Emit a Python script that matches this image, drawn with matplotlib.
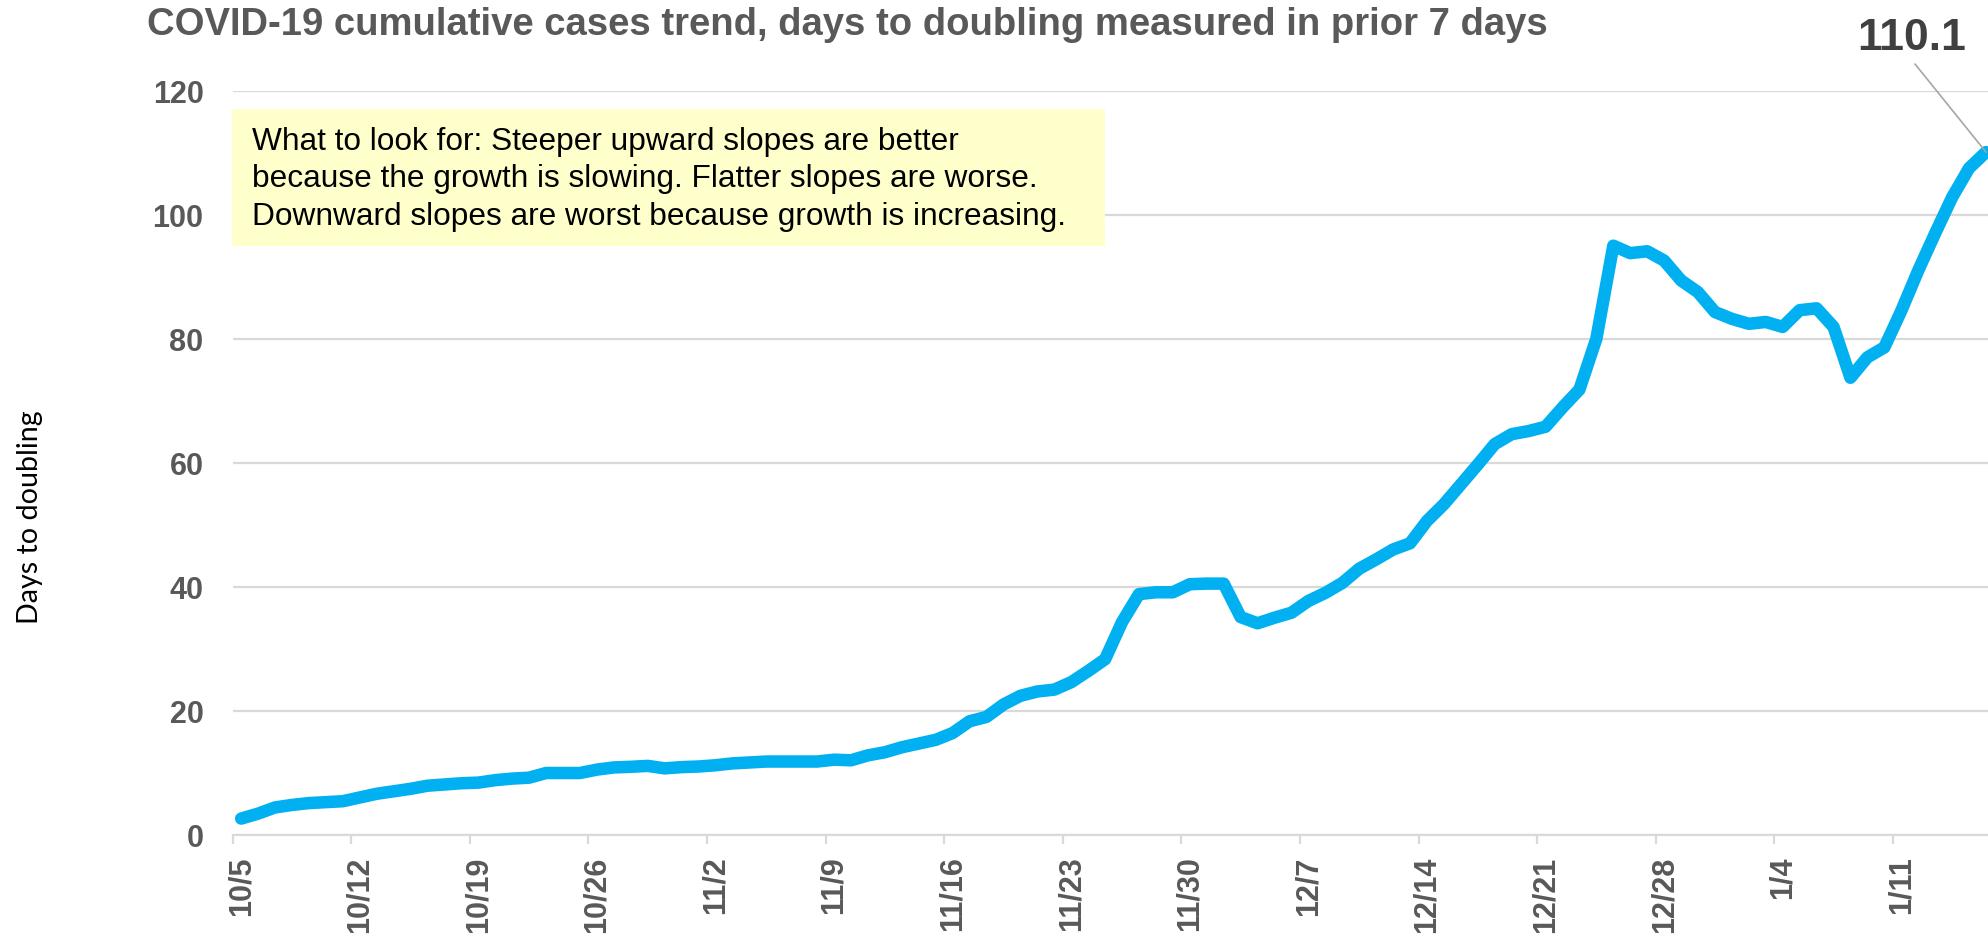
import numpy as np
import matplotlib
matplotlib.use("Agg")
import matplotlib.pyplot as plt
from matplotlib.patches import Rectangle

# ---------------- data ----------------
days_to_doubling = [
    2.6, 3.4, 4.4, 4.8, 5.1, 5.25, 5.4, 6.0, 6.6, 7.0,
    7.4, 7.9, 8.1, 8.3, 8.4, 8.8, 9.05, 9.2, 9.95, 9.95,
    9.95, 10.5, 10.85, 10.95, 11.1, 10.7, 10.9, 11.0, 11.2, 11.5,
    11.65, 11.8, 11.8, 11.8, 11.8, 12.1, 12.0, 12.8, 13.3, 14.1,
    14.7, 15.3, 16.4, 18.3, 19.0, 21.0, 22.4, 23.1, 23.4, 24.6,
    26.4, 28.3, 34.3, 38.8, 39.1, 39.1, 40.4, 40.5, 40.5, 35.1,
    34.1, 35.0, 35.8, 37.7, 39.0, 40.6, 42.9, 44.4, 46.0, 47.0,
    50.6, 53.3, 56.5, 59.7, 63.0, 64.6, 65.1, 65.8, 68.9, 71.8,
    80.0, 95.0, 93.8, 94.1, 92.6, 89.4, 87.5, 84.3, 83.2, 82.4,
    82.7, 81.9, 84.6, 84.9, 81.9, 73.7, 77.0, 78.6, 84.5, 91.0,
    97.0, 102.8, 107.5, 110.1,
]
tick_labels = ["10/5", "10/12", "10/19", "10/26", "11/2", "11/9", "11/16",
               "11/23", "11/30", "12/7", "12/14", "12/21", "12/28", "1/4", "1/11"]
y_ticks = [0, 20, 40, 60, 80, 100, 120]

title = "COVID-19 cumulative cases trend, days to doubling measured in prior 7 days"
note_lines = ["What to look for: Steeper upward slopes are better",
              "because the growth is slowing. Flatter slopes are worse.",
              "Downward slopes are worst because growth is increasing."]
y_label = "Days to doubling"

# ---------------- style ----------------
W, H, DPI = 1988, 937, 100
LINE_BLUE = "#00B0F0"
GRID = "#D9D9D9"
TXT_GRAY = "#595959"
BOLD = "Liberation Sans"

fig = plt.figure(figsize=(W / DPI, H / DPI), dpi=DPI)
fig.patch.set_facecolor("white")

n = len(days_to_doubling)
x = np.arange(n)

# axes geometry in pixels
px_left, px_bottom, px_top = 232.7, 835.7, 91.7
px_per_day = 16.94
xmin, xmax = -0.5, n - 0.5
px_right = px_left + (xmax - xmin) * px_per_day
ax = fig.add_axes([px_left / W, 1 - px_bottom / H,
                   (px_right - px_left) / W, (px_bottom - px_top) / H])

ax.plot(x, days_to_doubling, color=LINE_BLUE, lw=9.0,
        solid_capstyle="round", solid_joinstyle="round", zorder=3, clip_on=False)

ax.set_xlim(xmin, xmax)
ax.set_ylim(0, 120)

for s in ["top", "right", "left"]:
    ax.spines[s].set_visible(False)
ax.spines["bottom"].set_color(GRID)
ax.spines["bottom"].set_linewidth(1.6)
ax.spines["bottom"].set_zorder(1)

ax.set_yticks(y_ticks)
ax.set_yticklabels([str(v) for v in y_ticks])
ax.yaxis.grid(True, color=GRID, lw=1.6, zorder=0)
ax.set_axisbelow(True)
ax.tick_params(axis="y", length=0, pad=21, labelsize=22, labelcolor=TXT_GRAY)

label_pos = np.arange(0, n, 7)[:len(tick_labels)]
ax.set_xticks(label_pos)
ax.set_xticklabels(tick_labels, rotation=90)
ax.set_xticks(label_pos - 0.5, minor=True)
ax.tick_params(axis="x", which="major", length=0, pad=15, labelsize=22,
               labelcolor=TXT_GRAY)
ax.tick_params(axis="x", which="minor", length=6.5, width=1.6, color=GRID)
for lab in ax.get_xticklabels() + ax.get_yticklabels():
    lab.set_fontfamily(BOLD)
    lab.set_fontweight("bold")

# ---------------- texts ----------------
renderer = fig.canvas.get_renderer()

def fit_width(t, target_px):
    bb = t.get_window_extent(renderer)
    t.set_fontsize(t.get_fontsize() * target_px / bb.width)

t_title = fig.text(146.7 / W, 1 - 35 / H, title, fontfamily=BOLD, fontweight="bold",
                   color=TXT_GRAY, fontsize=24, ha="left", va="baseline")
fit_width(t_title, 1403)

# note box
fig.patches.append(Rectangle((232 / W, 1 - 247 / H), 873 / W, 137 / H,
                             transform=fig.transFigure, facecolor="#FFFFCC",
                             edgecolor="none", zorder=2))
baselines = [150, 187.5, 225]
note_texts = []
for line, b in zip(note_lines, baselines):
    note_texts.append(fig.text(252 / W, 1 - b / H, line, fontfamily=BOLD,
                               color="black", fontsize=19.5, ha="left",
                               va="baseline", zorder=3))
bb = note_texts[2].get_window_extent(renderer)
fs = note_texts[2].get_fontsize() * 818 / bb.width
for t in note_texts:
    t.set_fontsize(fs)

t_y = fig.text(30 / W, 1 - 517 / H, y_label, rotation=90, fontfamily="Lato",
               color="black", fontsize=17, ha="center", va="center")
bb = t_y.get_window_extent(renderer)
t_y.set_fontsize(t_y.get_fontsize() * 213 / bb.height)

# last value callout
last_x, last_y = x[-1], days_to_doubling[-1]
ax.annotate("", xy=(last_x, last_y), xycoords="data",
            xytext=(1915, H - 65), textcoords="figure pixels",
            arrowprops=dict(arrowstyle="-", color="#A6A6A6", lw=1.2,
                            shrinkA=0, shrinkB=0), annotation_clip=False)
fig.text(1912 / W, 1 - 50 / H, f"{last_y:.1f}", fontfamily=BOLD, fontweight="bold",
         color="#404040", fontsize=32, ha="center", va="baseline")

fig.savefig("out.png", dpi=DPI)
